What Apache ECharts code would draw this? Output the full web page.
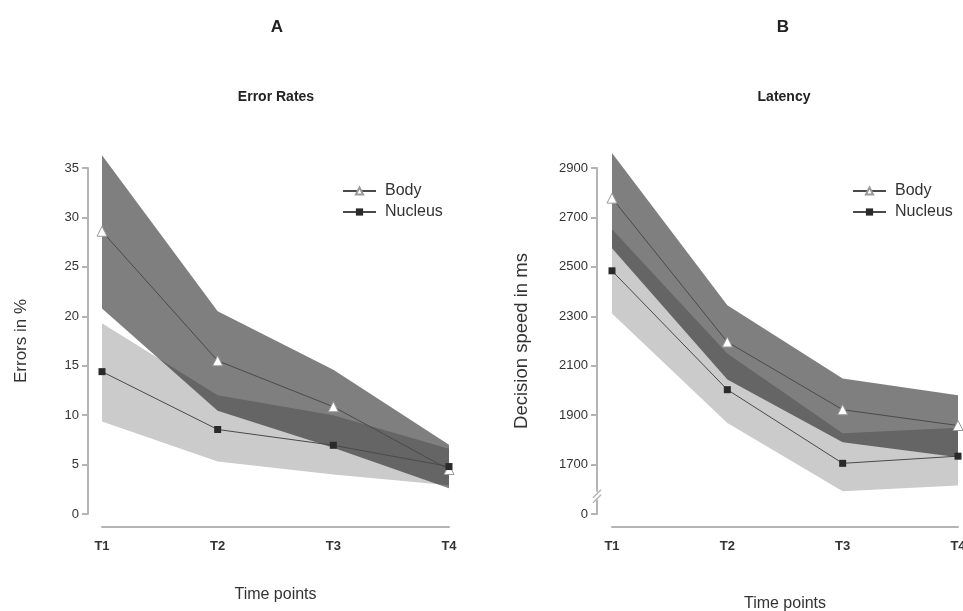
<!DOCTYPE html>
<html>
<head>
<meta charset="utf-8">
<script src="https://cdn.jsdelivr.net/npm/echarts@6/dist/echarts.min.js"></script>
<style>
html,body{margin:0;padding:0;background:#fff;}
#main{width:963px;height:611px;}
</style>
</head>
<body>
<div id="main"></div>
<script>
// ---- data ----
const categories = ['T1', 'T2', 'T3', 'T4'];
const seriesNames = ['Body', 'Nucleus'];

// Panel A: error rates (%)
const errBody = [28.6, 15.5, 10.85, 4.5];
const errBodyUpper = [36.3, 20.5, 14.6, 7.0];
const errBodyLower = [20.8, 10.45, 6.7, 2.6];
const errNucleus = [14.4, 8.55, 6.95, 4.8];
const errNucleusUpper = [19.3, 12.0, 10.0, 6.6];
const errNucleusLower = [9.35, 5.3, 4.0, 2.9];

// Panel B: latency (ms)
const latBody = [2778, 2196, 1922, 1858];
const latBodyUpper = [2961, 2345, 2048, 1980];
const latBodyLower = [2575, 2044, 1790, 1730];
const latNucleus = [2484, 2003, 1705, 1734];
const latNucleusUpper = [2652, 2149, 1827, 1849];
const latNucleusLower = [2311, 1868, 1592, 1615];

// axis tick settings
const errAxis = {min: 0, max: 35, interval: 5};
const latAxis = {min: 1500, max: 2900, interval: 200};
const latBreakLabel = '0';

const FONT = '"Liberation Sans", Arial, sans-serif';
const AXIS_GREY = '#b4b4b4';

function bandSeries(id, lower, upper, axisIdx, color) {
  return [
    {
      type: 'line', name: id + '_lo', xAxisIndex: axisIdx, yAxisIndex: axisIdx,
      data: lower, stack: id, symbol: 'none', silent: true, clip: false,
      lineStyle: {opacity: 0}, z: 1
    },
    {
      type: 'line', name: id + '_band', xAxisIndex: axisIdx, yAxisIndex: axisIdx,
      data: upper.map((u, i) => u - lower[i]), stack: id, symbol: 'none', silent: true, clip: false,
      lineStyle: {opacity: 0}, areaStyle: {color: color, opacity: 1}, z: 1
    }
  ];
}

function lineSeries(name, data, axisIdx) {
  const isBody = name === 'Body';
  return {
    type: 'line', name: name, xAxisIndex: axisIdx, yAxisIndex: axisIdx, data: data,
    clip: false, z: 3,
    symbol: isBody ? 'triangle' : 'rect',
    symbolSize: isBody ? 10 : 7,
    lineStyle: {color: '#4a4a4a', width: 1},
    itemStyle: isBody ? {color: '#ffffff', borderColor: '#9a9a9a', borderWidth: 1}
                      : {color: '#2a2a2a', borderColor: '#2a2a2a', borderWidth: 0}
  };
}

const LIGHT_BAND = '#cbcbcb';
const DARK_BAND = 'rgba(0,0,0,0.5)';

function yAxisCfg(gridIdx, ax, name, nameGap, nameSize, formatter, offset) {
  return {
    type: 'value', gridIndex: gridIdx, min: ax.min, max: ax.max, interval: ax.interval,
    offset: offset, name: name, nameLocation: 'middle', nameGap: nameGap, nameRotate: 90,
    nameTextStyle: {fontFamily: FONT, fontSize: nameSize, color: '#333'},
    axisLine: {show: true, onZero: false, lineStyle: {color: AXIS_GREY, width: 2}},
    axisTick: {show: true, length: 6, lineStyle: {color: AXIS_GREY, width: 2}},
    axisLabel: {fontFamily: FONT, fontSize: 13, color: '#333', margin: 9, formatter: formatter},
    splitLine: {show: false}
  };
}

function xAxisCfg(gridIdx, nameGap) {
  return {
    type: 'category', gridIndex: gridIdx, data: categories, boundaryGap: false, offset: 13,
    name: 'Time points', nameLocation: 'middle', nameGap: nameGap,
    nameTextStyle: {fontFamily: FONT, fontSize: 16, color: '#333'},
    axisLine: {show: true, onZero: false, lineStyle: {color: AXIS_GREY, width: 2}},
    axisTick: {show: false},
    axisLabel: {fontFamily: FONT, fontSize: 13, fontWeight: 'bold', color: '#333', margin: 13},
    splitLine: {show: false}
  };
}

function legendCfg(left) {
  return {
    left: left, top: 178, orient: 'vertical', itemWidth: 33, itemHeight: 9, itemGap: 5,
    data: seriesNames,
    textStyle: {fontFamily: FONT, fontSize: 16, color: '#333', lineHeight: 16, padding: [0, 0, 0, 4]}
  };
}

const chart = echarts.init(document.getElementById('main'), null, {renderer: 'canvas'});

const option = {
  backgroundColor: '#ffffff',
  animation: false,
  grid: [
    {left: 102, top: 168, width: 347, height: 346, containLabel: false, outerBoundsMode: 'none'},
    {left: 612, top: 168, width: 346, height: 346, containLabel: false, outerBoundsMode: 'none'}
  ],
  xAxis: [xAxisCfg(0, 60), xAxisCfg(1, 69)],
  yAxis: [
    yAxisCfg(0, errAxis, 'Errors in %', 58, 17, null, 14),
    yAxisCfg(1, latAxis, 'Decision speed in ms', 66, 18.5,
      v => (v === latAxis.min ? latBreakLabel : String(v)), 15)
  ],
  legend: [legendCfg(337), legendCfg(847)],
  series: [
    ...bandSeries('errNuc', errNucleusLower, errNucleusUpper, 0, LIGHT_BAND),
    ...bandSeries('errBody', errBodyLower, errBodyUpper, 0, DARK_BAND),
    lineSeries('Body', errBody, 0),
    lineSeries('Nucleus', errNucleus, 0),
    ...bandSeries('latNuc', latNucleusLower, latNucleusUpper, 1, LIGHT_BAND),
    ...bandSeries('latBody', latBodyLower, latBodyUpper, 1, DARK_BAND),
    lineSeries('Body', latBody, 1),
    lineSeries('Nucleus', latNucleus, 1)
  ],
  graphic: [
    {type: 'text', x: 277, y: 27, style: {text: 'A', align: 'center', verticalAlign: 'middle', fontFamily: FONT, fontSize: 17, fontWeight: 'bold', fill: '#222'}},
    {type: 'text', x: 783, y: 27, style: {text: 'B', align: 'center', verticalAlign: 'middle', fontFamily: FONT, fontSize: 17, fontWeight: 'bold', fill: '#222'}},
    {type: 'text', x: 276, y: 97, style: {text: 'Error Rates', align: 'center', verticalAlign: 'middle', fontFamily: FONT, fontSize: 14, fontWeight: 'bold', fill: '#222'}},
    {type: 'text', x: 784, y: 97, style: {text: 'Latency', align: 'center', verticalAlign: 'middle', fontFamily: FONT, fontSize: 14, fontWeight: 'bold', fill: '#222'}}
  ]
};
chart.setOption(option);

// axis break marks on panel B's y axis (between the 0 label and 1700)
const breakVal = latAxis.min + latAxis.interval * 0.37;
const yb = chart.convertToPixel({yAxisIndex: 1}, breakVal);
const xb = chart.convertToPixel({xAxisIndex: 1}, categories[0]) - 15;
chart.setOption({
  graphic: option.graphic.concat([
    {type: 'rect', shape: {x: xb - 3, y: yb - 4, width: 6, height: 8}, style: {fill: '#fff'}, z: 100},
    {type: 'line', shape: {x1: xb - 4, y1: yb + 2, x2: xb + 4, y2: yb - 6}, style: {stroke: AXIS_GREY, lineWidth: 1.5}, z: 101},
    {type: 'line', shape: {x1: xb - 4, y1: yb + 7, x2: xb + 4, y2: yb - 1}, style: {stroke: AXIS_GREY, lineWidth: 1.5}, z: 101}
  ])
});
</script>
</body>
</html>
